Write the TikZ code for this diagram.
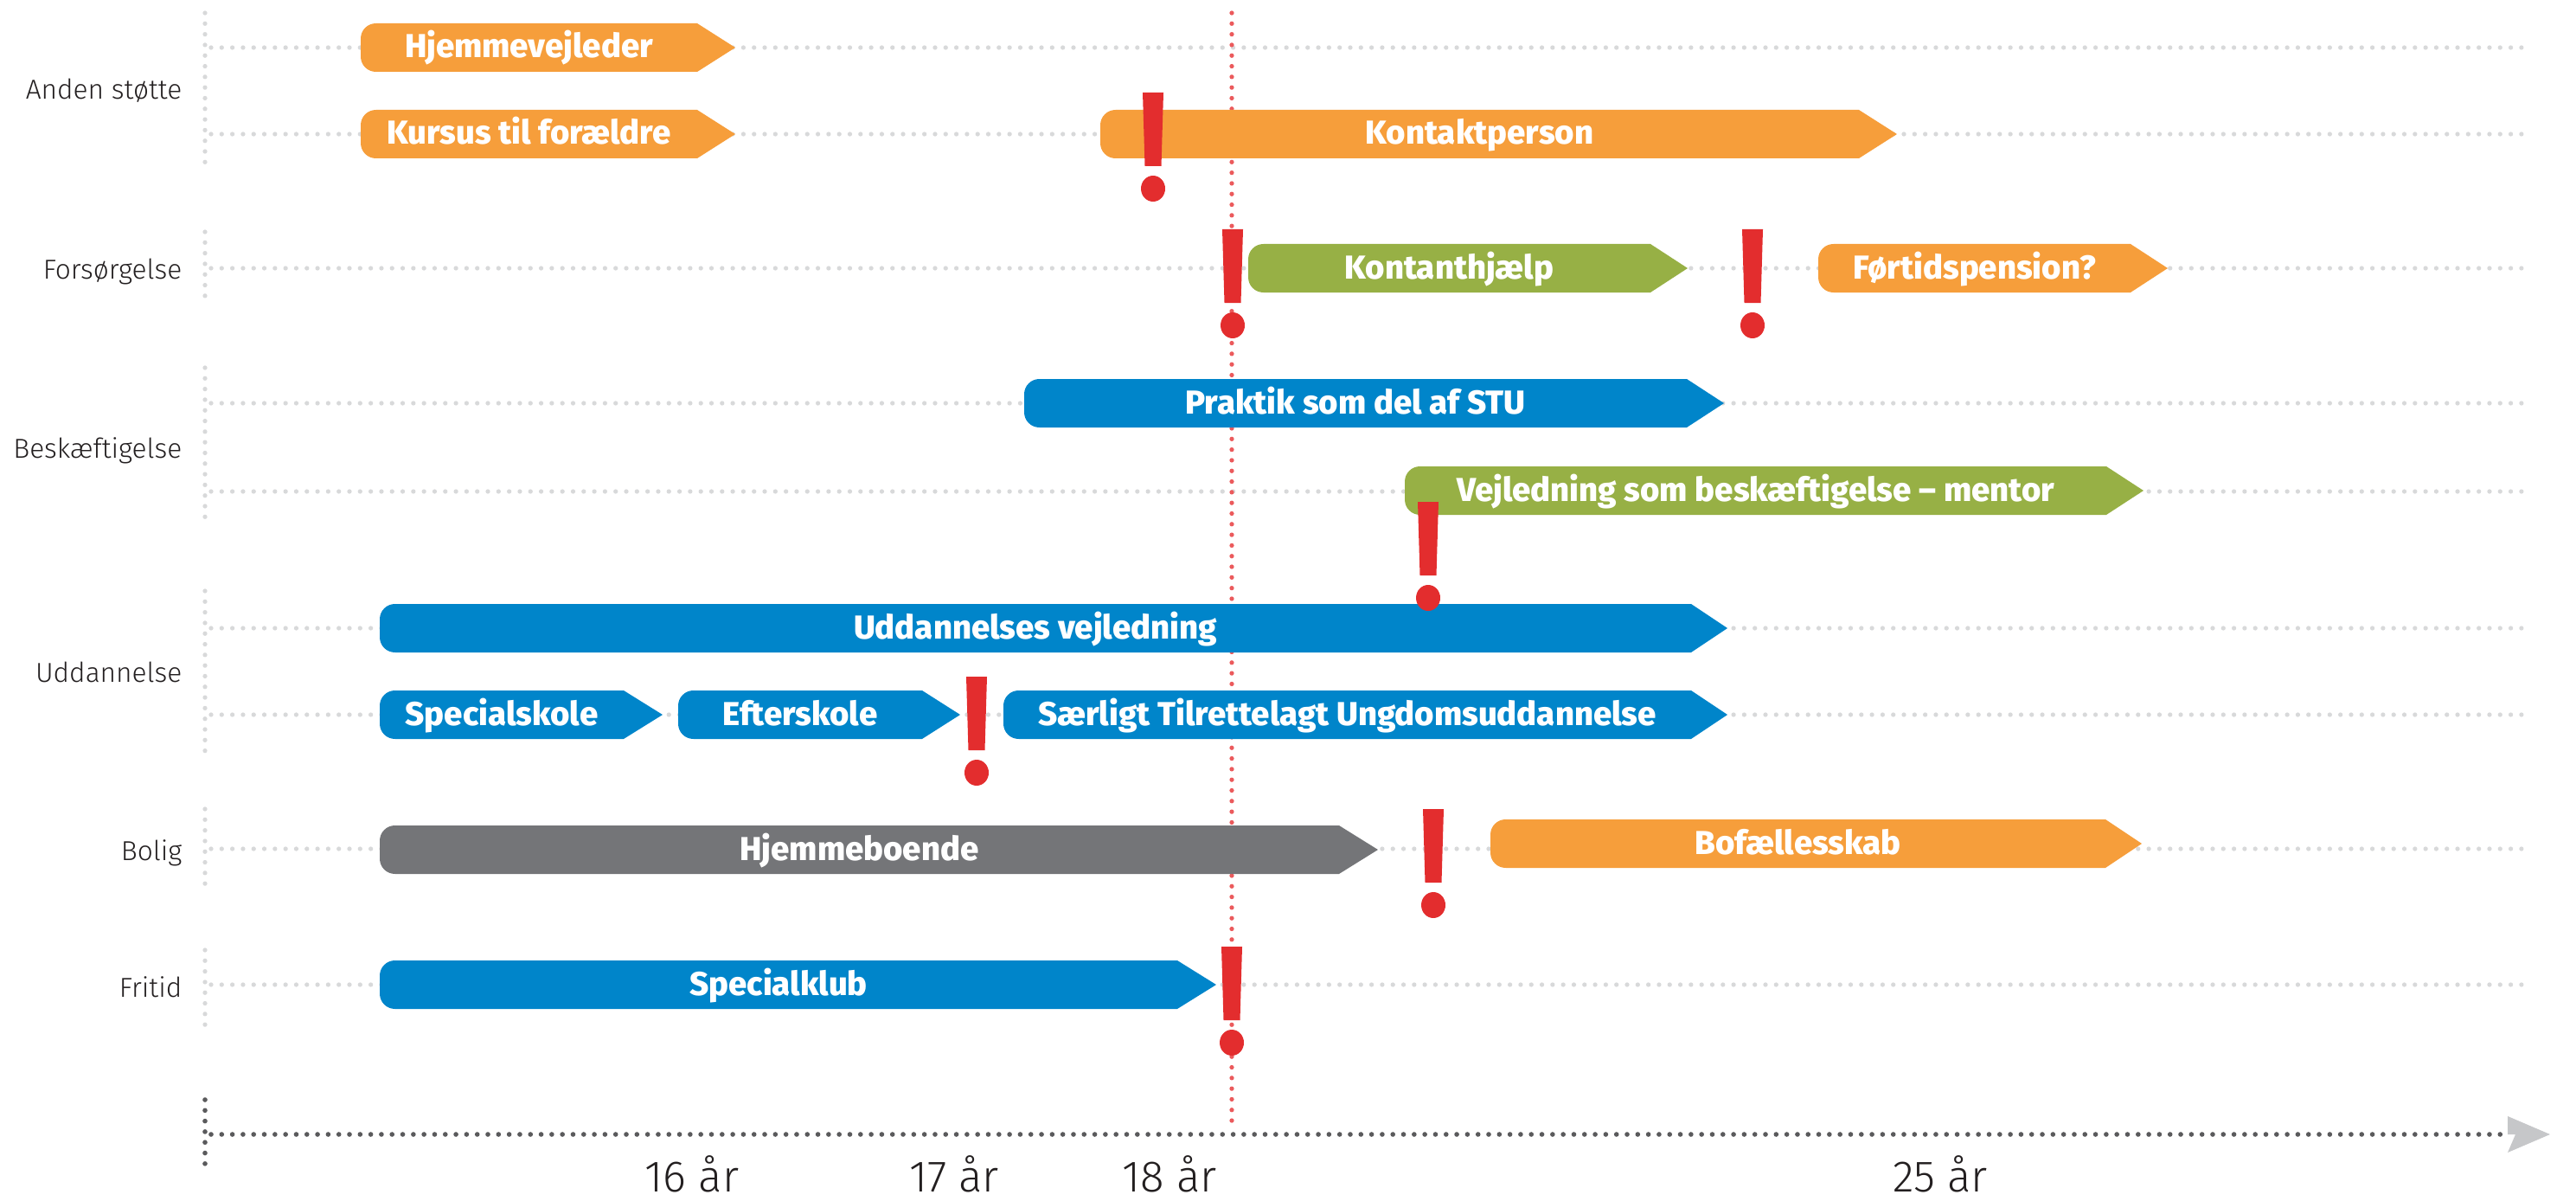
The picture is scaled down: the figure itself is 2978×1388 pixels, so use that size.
\documentclass[tikz,border=0pt]{standalone}
\usepackage{fontspec}
\usepackage{tikz}
\usepackage{xcolor}

\IfFontExistsTF{Fira Sans Light}{\newfontfamily\lightfont{Fira Sans Light}}{\newfontfamily\lightfont{Fira Sans}}
\IfFontExistsTF{Fira Sans ExtraBold}{\newfontfamily\barfont{Fira Sans ExtraBold}}{\newfontfamily\barfont{Fira Sans Bold}}

\definecolor{kidorange}{RGB}{246,158,59}
\definecolor{kidgreen}{RGB}{151,176,69}
\definecolor{kidblue}{RGB}{0,133,202}
\definecolor{kidgray}{RGB}{116,117,120}
\definecolor{warnred}{RGB}{227,45,46}
\definecolor{redline}{RGB}{235,90,92}
\definecolor{dotgray}{RGB}{216,217,218}
\definecolor{axisgray}{RGB}{90,90,92}
\definecolor{tipgray}{RGB}{198,199,201}
\definecolor{labelblack}{RGB}{35,31,32}

\tikzset{
    phasetext/.style={text=white, font=\barfont\fontsize{10.9}{12}\selectfont, inner sep=0pt, anchor=base},
    rowlabel/.style={text=labelblack, font=\lightfont\fontsize{9}{11}\selectfont, inner sep=0pt, anchor=base east},
    agelabel/.style={text=labelblack, font=\lightfont\fontsize{14.5}{17}\selectfont, inner sep=0pt, anchor=base},
    rowline/.style={dotgray, line width=1.5pt, line cap=round, dash pattern=on 0pt off 3.5pt},
    axisline/.style={axisgray, line width=1.6pt, line cap=round, dash pattern=on 0pt off 3.5pt},
    ageline/.style={redline, line width=1.5pt, line cap=round, dash pattern=on 0pt off 3.5pt}
}

% name, colour, left, notch, tip, y, text
\newcommand{\phase}[7]{%
    \fill[#2] (#4, #6-28) [rounded corners=5pt] -- (#3, #6-28) -- (#3, #6+28) [sharp corners] -- (#4, #6+28) -- (#5, #6) -- cycle;
    \node[phasetext] (#1) at ({(#3+#4)/2}, #6+12) {#7};
}
% name, x, top
\newcommand{\warn}[3]{%
    \coordinate (#1) at (#2, #3);
    \fill[warnred] (#2-12, #3) -- (#2+12, #3) -- (#2+9.5, #3+85) -- (#2-9.5, #3+85) -- cycle;
    \fill[warnred] (#2, #3+111) ellipse [x radius=14, y radius=15];
}

\begin{document}
\begin{tikzpicture}[x=0.01cm, y=-0.01cm]
        \useasboundingbox (0, 0) rectangle (2978, 1388);

        \foreach \y in {55, 155, 310, 466, 568, 726, 826, 981, 1138}
            \draw[rowline] (244, \y) -- (2915, \y);
        \foreach \a/\b in {15/198, 268/350, 425/608, 683/872, 935/1031, 1098/1187}
            \draw[rowline] (237, \a) -- (237, \b);

        \node[rowlabel] (anden) at (211, 115) {Anden støtte};
        \node[rowlabel] (forsorg) at (211, 322) {Forsørgelse};
        \node[rowlabel] (beskaef) at (211, 529) {Beskæftigelse};
        \node[rowlabel] (uddan) at (211, 788) {Uddannelse};
        \node[rowlabel] (bolig) at (211, 994) {Bolig};
        \node[rowlabel] (fritid) at (211, 1152) {Fritid};

        \coordinate (age18) at (1424, 15);
        \coordinate (age18end) at (1424, 1300);
        \draw[ageline] (age18) -- (age18end);

        \phase{hjemvej}{kidorange}{417}{806}{850}{55}{Hjemmevejleder}
        \phase{kursus}{kidorange}{417}{806}{850}{155}{Kursus til forældre}
        \phase{kontakt}{kidorange}{1272}{2149}{2193}{155}{Kontaktperson}
        \phase{kontant}{kidgreen}{1443}{1908}{1951}{310}{Kontanthjælp}
        \phase{fortid}{kidorange}{2102}{2463}{2506}{310}{Førtidspension?}
        \phase{praktik}{kidblue}{1184}{1950}{1993}{466}{Praktik som del af STU}
        \phase{mentor}{kidgreen}{1624}{2435}{2478}{567}{Vejledning som beskæftigelse – mentor}
        \phase{udvej}{kidblue}{439}{1955}{1997}{726}{Uddannelses vejledning}
        \phase{special}{kidblue}{439}{721}{766}{826}{Specialskole}
        \phase{efter}{kidblue}{784}{1066}{1110}{826}{Efterskole}
        \phase{stu}{kidblue}{1160}{1955}{1997}{826}{Særligt Tilrettelagt Ungdomsuddannelse}
        \phase{hjemboe}{kidgray}{439}{1548}{1593}{982}{Hjemmeboende}
        \phase{bofael}{kidorange}{1723}{2434}{2476}{975}{Bofællesskab}
        \phase{klub}{kidblue}{439}{1361}{1406}{1138}{Specialklub}

        \warn{w1}{1333}{107}
        \warn{w2}{1425}{265}
        \warn{w3}{2026}{265}
        \warn{w4}{1651}{580}
        \warn{w5}{1129}{782}
        \warn{w6}{1657}{935}
        \warn{w7}{1424}{1094}

        \coordinate (origin) at (237, 1311);
        \coordinate (axisend) at (2899, 1311);
        \draw[axisline] (237, 1271) -- (237, 1351);
        \draw[axisline] (244, 1311) -- (axisend);
        \fill[tipgray] (axisend) -- (2899, 1290) -- (2948, 1311) -- (2899, 1332) -- (2908, 1311) -- cycle;

        \node[agelabel] (a16) at (800, 1377) {16 år};
        \node[agelabel] (a17) at (1103, 1377) {17 år};
        \node[agelabel] (a18) at (1352, 1377) {18 år};
        \node[agelabel] (a25) at (2243, 1377) {25 år};
    \end{tikzpicture}
\end{document}
